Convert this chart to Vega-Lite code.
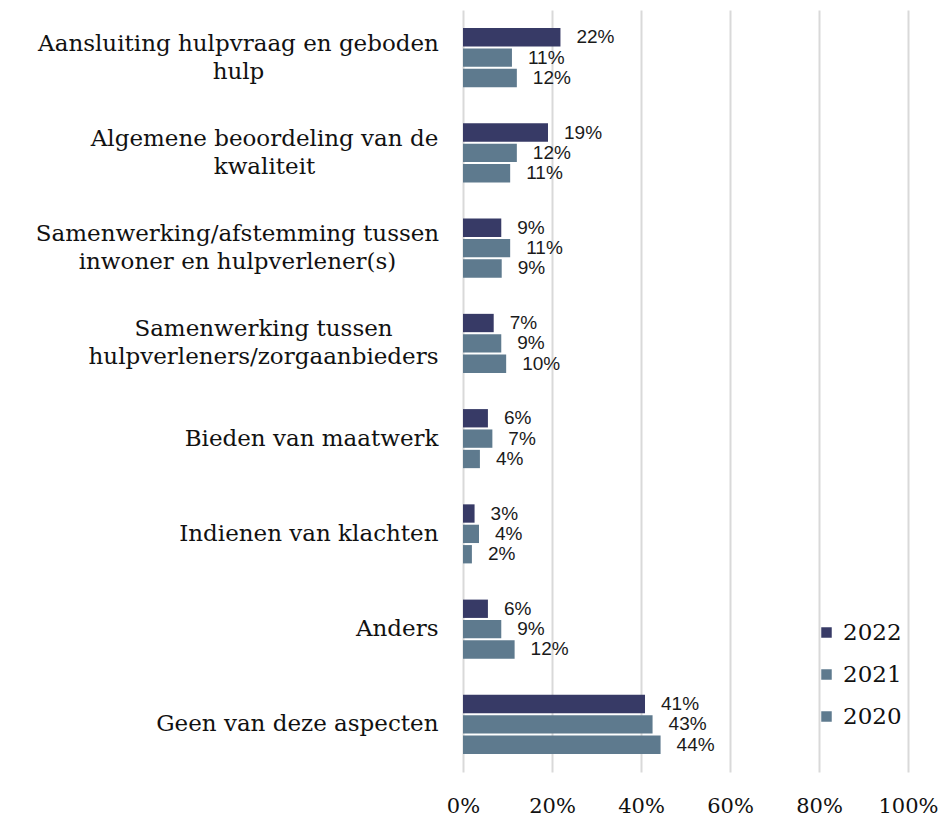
{
  "$schema": "https://vega.github.io/schema/vega-lite/v6.json",
  "width": 445,
  "height": 762,
  "autosize": "none",
  "padding": {"left": 463, "top": 10, "right": 36, "bottom": 44},
  "background": "white",
  "config": {"view": {"stroke": null}},
  "data": {
    "values": [
      {"aspect": "Aansluiting hulpvraag en geboden hulp", "year": "2022", "value": 0.219},
      {"aspect": "Aansluiting hulpvraag en geboden hulp", "year": "2021", "value": 0.110},
      {"aspect": "Aansluiting hulpvraag en geboden hulp", "year": "2020", "value": 0.121},
      {"aspect": "Algemene beoordeling van de kwaliteit", "year": "2022", "value": 0.191},
      {"aspect": "Algemene beoordeling van de kwaliteit", "year": "2021", "value": 0.121},
      {"aspect": "Algemene beoordeling van de kwaliteit", "year": "2020", "value": 0.106},
      {"aspect": "Samenwerking/afstemming tussen inwoner en hulpverlener(s)", "year": "2022", "value": 0.086},
      {"aspect": "Samenwerking/afstemming tussen inwoner en hulpverlener(s)", "year": "2021", "value": 0.106},
      {"aspect": "Samenwerking/afstemming tussen inwoner en hulpverlener(s)", "year": "2020", "value": 0.087},
      {"aspect": "Samenwerking tussen hulpverleners/zorgaanbieders", "year": "2022", "value": 0.069},
      {"aspect": "Samenwerking tussen hulpverleners/zorgaanbieders", "year": "2021", "value": 0.086},
      {"aspect": "Samenwerking tussen hulpverleners/zorgaanbieders", "year": "2020", "value": 0.097},
      {"aspect": "Bieden van maatwerk", "year": "2022", "value": 0.056},
      {"aspect": "Bieden van maatwerk", "year": "2021", "value": 0.066},
      {"aspect": "Bieden van maatwerk", "year": "2020", "value": 0.038},
      {"aspect": "Indienen van klachten", "year": "2022", "value": 0.026},
      {"aspect": "Indienen van klachten", "year": "2021", "value": 0.036},
      {"aspect": "Indienen van klachten", "year": "2020", "value": 0.020},
      {"aspect": "Anders", "year": "2022", "value": 0.056},
      {"aspect": "Anders", "year": "2021", "value": 0.086},
      {"aspect": "Anders", "year": "2020", "value": 0.116},
      {"aspect": "Geen van deze aspecten", "year": "2022", "value": 0.409},
      {"aspect": "Geen van deze aspecten", "year": "2021", "value": 0.426},
      {"aspect": "Geen van deze aspecten", "year": "2020", "value": 0.444}
    ]
  },
  "encoding": {
    "y": {
      "field": "aspect",
      "type": "nominal",
      "sort": null,
      "scale": {"paddingInner": 0.38, "paddingOuter": 0.19},
      "axis": {
        "title": null,
        "domain": false,
        "ticks": false,
        "grid": false,
        "labelFont": "DejaVu Serif",
        "labelFontSize": 23,
        "labelColor": "#111111",
        "labelLimit": 0,
        "labelLineHeight": 28,
        "labelAlign": {"condition": {"test": "length(datum.value) > 30", "value": "center"}, "value": "right"},
        "labelOffset": {"condition": {"test": "length(datum.value) > 30", "value": -14}, "value": 0},
        "labelPadding": {
          "condition": [
            {"test": "datum.value == 'Aansluiting hulpvraag en geboden hulp'", "value": 225},
            {"test": "datum.value == 'Algemene beoordeling van de kwaliteit'", "value": 199},
            {"test": "datum.value == 'Samenwerking/afstemming tussen inwoner en hulpverlener(s)'", "value": 226},
            {"test": "datum.value == 'Samenwerking tussen hulpverleners/zorgaanbieders'", "value": 200}
          ],
          "value": 25
        },
        "labelExpr": "datum.label == 'Aansluiting hulpvraag en geboden hulp' ? ['Aansluiting hulpvraag en geboden', 'hulp'] : datum.label == 'Algemene beoordeling van de kwaliteit' ? ['Algemene beoordeling van de', 'kwaliteit'] : datum.label == 'Samenwerking/afstemming tussen inwoner en hulpverlener(s)' ? ['Samenwerking/afstemming tussen', 'inwoner en hulpverlener(s)'] : datum.label == 'Samenwerking tussen hulpverleners/zorgaanbieders' ? ['Samenwerking tussen', 'hulpverleners/zorgaanbieders'] : datum.label"
      }
    },
    "x": {
      "field": "value",
      "type": "quantitative",
      "scale": {"domain": [0, 1], "nice": false},
      "axis": {
        "title": null,
        "values": [0, 0.2, 0.4, 0.6, 0.8, 1],
        "format": ".0%",
        "domain": false,
        "ticks": false,
        "grid": true,
        "gridColor": "#d9d9d9",
        "gridWidth": 2,
        "labelFont": "DejaVu Serif",
        "labelFontSize": 21,
        "labelColor": "#111111",
        "labelPadding": 23,
        "labelFlush": false
      }
    },
    "yOffset": {
      "field": "year",
      "type": "nominal",
      "sort": ["2022", "2021", "2020"],
      "scale": {"paddingInner": 0.1, "paddingOuter": 0}
    }
  },
  "layer": [
    {
      "mark": {"type": "bar"},
      "encoding": {
        "color": {
          "field": "year",
          "type": "nominal",
          "scale": {"domain": ["2022", "2021", "2020"], "range": ["#373a66", "#5e7a8e", "#5e7a8e"]},
          "legend": {
            "title": null,
            "orient": "none",
            "legendX": 352,
            "legendY": 611,
            "symbolType": "square",
            "symbolSize": 110,
            "symbolStrokeWidth": 0,
            "labelFont": "DejaVu Serif",
            "labelFontSize": 23,
            "labelColor": "#111111",
            "labelOffset": 5,
            "rowPadding": 18
          }
        }
      }
    },
    {
      "mark": {"type": "text", "align": "left", "baseline": "middle", "dx": 16, "font": "Liberation Sans", "fontSize": 19, "color": "#1a1a1a"},
      "encoding": {
        "text": {"field": "value", "type": "quantitative", "format": ".0%"}
      }
    }
  ]
}
